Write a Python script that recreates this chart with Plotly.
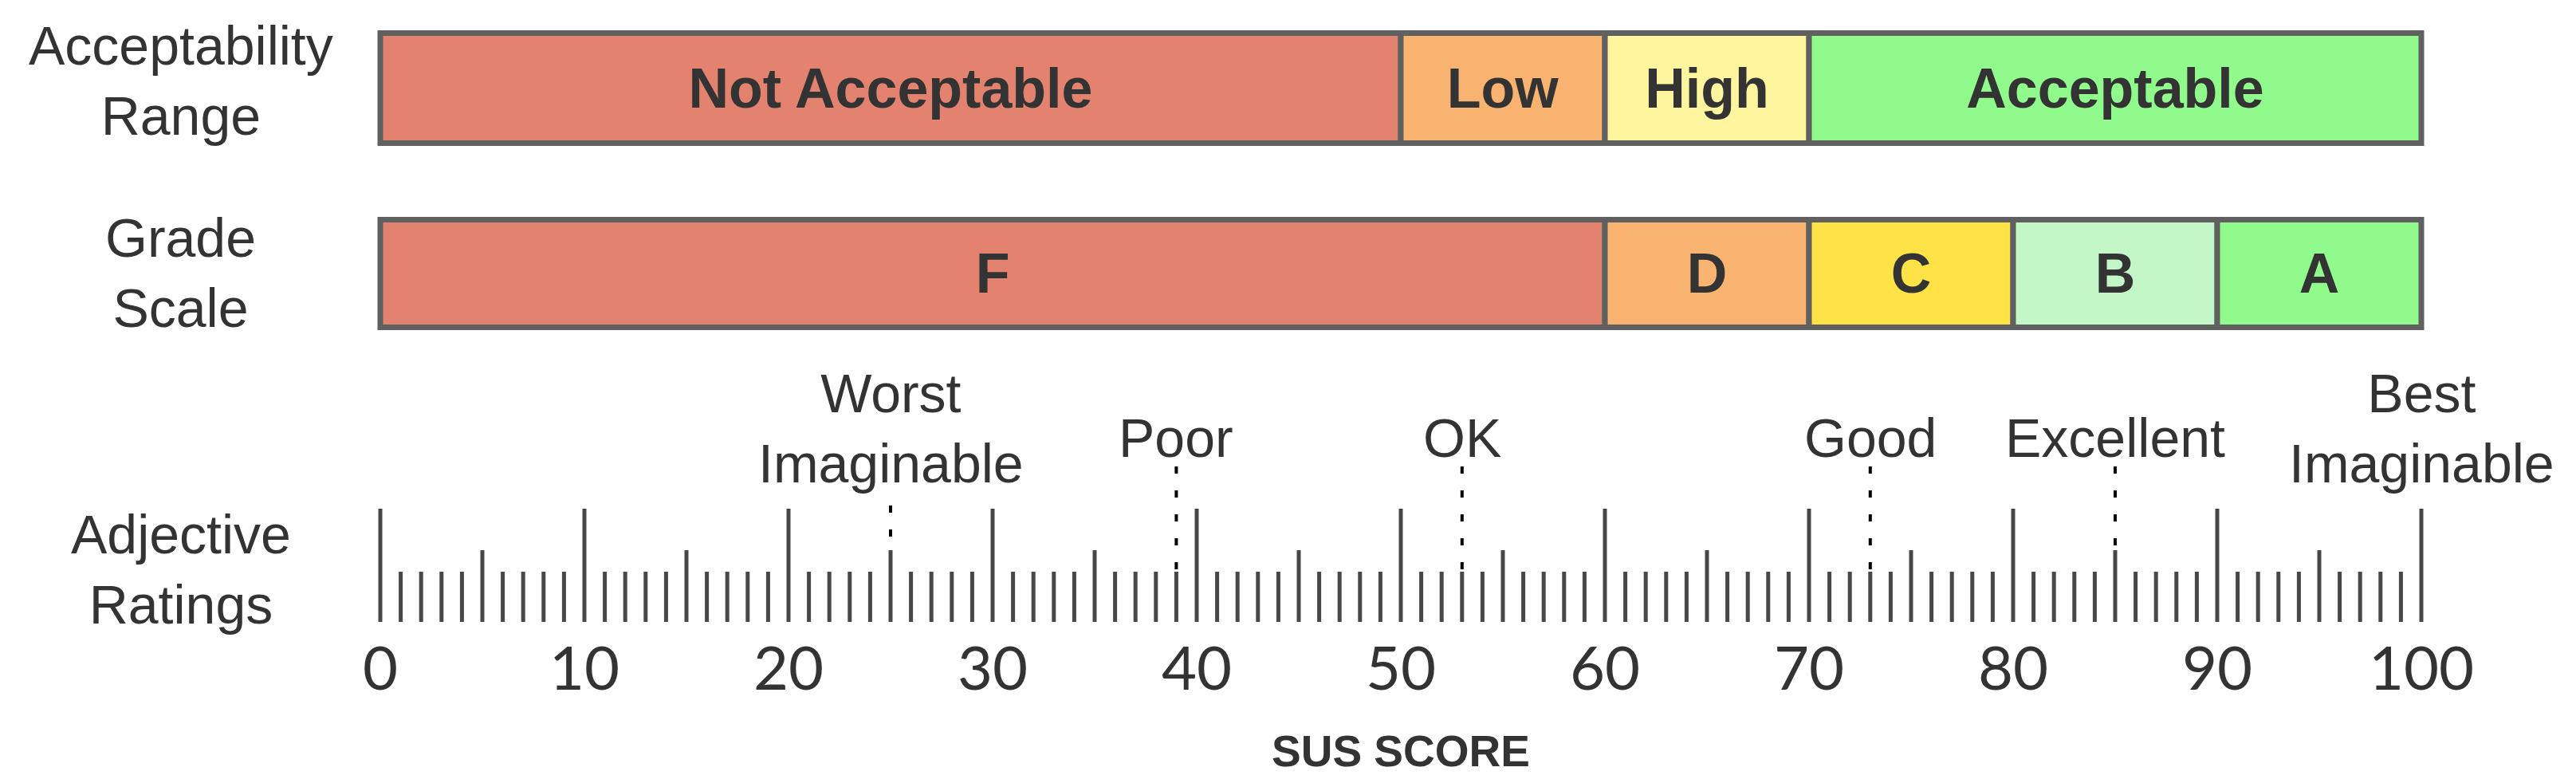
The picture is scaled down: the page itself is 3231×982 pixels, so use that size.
import plotly.graph_objects as go

# ---- data ----
acc_labels = ['Not Acceptable', 'Low', 'High', 'Acceptable']
acc_start = [0, 50, 60, 70]
acc_end = [50, 60, 70, 100]
acc_colors = ['#E3826F', '#F9B371', '#FFF59F', '#90FA8C']

grade_labels = ['F', 'D', 'C', 'B', 'A']
grade_start = [0, 60, 70, 80, 90]
grade_end = [60, 70, 80, 90, 100]
grade_colors = ['#E3826F', '#F9B371', '#FFE246', '#C4F7C7', '#90FA8C']

adj_labels = ['Worst<br>Imaginable', 'Poor', 'OK', 'Good', 'Excellent', 'Best<br>Imaginable']
adj_scores = [25, 39, 53, 73, 85, 100]

tick_values = [0, 10, 20, 30, 40, 50, 60, 70, 80, 90, 100]
tick_labels = ['0', '10', '20', '30', '40', '50', '60', '70', '80', '90', '100']

row_labels = ['Acceptability<br>Range', 'Grade<br>Scale', 'Adjective<br>Ratings']

# ---- layout constants (pixels) ----
W, H = 3231, 982
X0_PX, PX_PER_UNIT = 477, 25.6
FONT = 'Liberation Sans'
NUM_FONT = 'Lato'
TXT = '#333333'
EDGE = '#606060'

ACC_Y, ACC_H = 110.5, 138
GRADE_Y, GRADE_H = 343, 135
RULER_BASE = 780
MAJOR_TOP, MID_TOP, MINOR_TOP = 638, 690, 717

fig = go.Figure()


def add_band(labels, starts, ends, colors, yc, h):
    fig.add_trace(go.Bar(
        orientation='h',
        y=[yc] * len(labels),
        base=starts,
        x=[e - s for s, e in zip(starts, ends)],
        width=h,
        marker=dict(color=colors, line=dict(color=EDGE, width=7)),
        text=labels,
        textposition='inside',
        insidetextanchor='middle',
        textangle=0,
        constraintext='none',
        textfont=dict(family=FONT, size=70, color=TXT, weight='bold'),
        hoverinfo='skip',
        showlegend=False,
    ))


add_band(acc_labels, acc_start, acc_end, acc_colors, ACC_Y, ACC_H)
add_band(grade_labels, grade_start, grade_end, grade_colors, GRADE_Y, GRADE_H)

# ruler ticks
tx, ty = [], []
for v in range(0, 101):
    top = MAJOR_TOP if v % 10 == 0 else (MID_TOP if v % 5 == 0 else MINOR_TOP)
    tx += [v, v, None]
    ty += [RULER_BASE, top, None]
fig.add_trace(go.Scatter(x=tx, y=ty, mode='lines',
                         line=dict(color='#484848', width=5),
                         hoverinfo='skip', showlegend=False))

# tick labels
fig.add_trace(go.Scatter(x=tick_values, y=[846] * len(tick_values), mode='text',
                         text=tick_labels,
                         textfont=dict(family=NUM_FONT, size=76, color=TXT),
                         hoverinfo='skip', showlegend=False))

# adjective ratings: dotted leaders + labels
for lab, s in zip(adj_labels, adj_scores):
    two_line = '<br>' in lab
    top = 634 if two_line else 585
    if s % 10 == 0:
        bottom = MAJOR_TOP
    elif s % 5 == 0:
        bottom = MID_TOP
    elif float(s).is_integer():
        bottom = MINOR_TOP
    else:
        bottom = RULER_BASE
    if bottom - top > 10:
        fig.add_trace(go.Scatter(x=[s, s], y=[top, bottom], mode='lines',
                                 line=dict(color='black', width=4, dash='9px,21px'),
                                 hoverinfo='skip', showlegend=False))
    fig.add_annotation(x=s, y=537 if two_line else 549, text=lab, showarrow=False,
                       xanchor='center', yanchor='middle',
                       font=dict(family=FONT, size=68, color=TXT))

# row labels
for lab, yc in zip(row_labels, [101, 342, 714]):
    fig.add_annotation(x=227 / W, xref='paper', y=yc, text=lab, showarrow=False,
                       xanchor='center', yanchor='middle',
                       font=dict(family=FONT, size=68, color=TXT))

fig.add_annotation(x=50, y=942, text='<b>SUS SCORE</b>', showarrow=False,
                   xanchor='center', yanchor='middle',
                   font=dict(family=FONT, size=55, color=TXT))

fig.update_layout(
    width=W, height=H,
    margin=dict(l=0, r=0, t=0, b=0),
    paper_bgcolor='white', plot_bgcolor='white',
    barmode='overlay',
    xaxis=dict(range=[-X0_PX / PX_PER_UNIT, (W - X0_PX) / PX_PER_UNIT],
               visible=False, fixedrange=True),
    yaxis=dict(range=[H, 0], visible=False, fixedrange=True),
    font=dict(family=FONT, color=TXT),
)

# drop the browser's default body margin so the figure sits at the page origin
fig.write_html('out.html', config={'displayModeBar': False},
               post_script="document.body.style.margin='0';")
